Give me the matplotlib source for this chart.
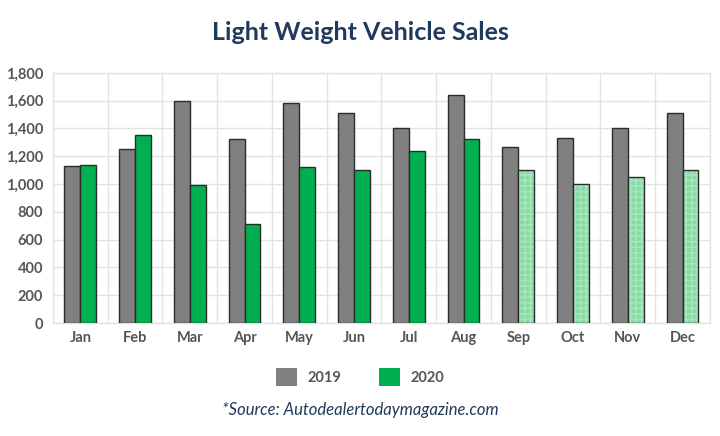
import matplotlib
matplotlib.use("Agg")
import matplotlib.pyplot as plt
import numpy as np
from matplotlib.patches import Patch

months = ["Jan", "Feb", "Mar", "Apr", "May", "Jun", "Jul", "Aug", "Sep", "Oct", "Nov", "Dec"]
sales_2019 = [1130, 1250, 1600, 1325, 1580, 1510, 1400, 1640, 1265, 1330, 1400, 1510]
sales_2020 = [1135, 1350, 995, 715, 1120, 1100, 1235, 1325, 1100, 1000, 1050, 1100]
projected_2020 = [False] * 8 + [True] * 4
yticks = [0, 200, 400, 600, 800, 1000, 1200, 1400, 1600, 1800]

plt.rcParams['font.family'] = ['Lato', 'DejaVu Sans']
plt.rcParams['hatch.linewidth'] = 1.2

fig = plt.figure(figsize=(7.2, 4.36), dpi=100)
ax = fig.add_axes([0.0736, 0.259, 0.9124, 0.574])

x = np.arange(len(months))
w = 0.29
edge = "#2b2b2b"
ax.bar(x - w / 2, sales_2019, w, color="#808080", edgecolor=edge, linewidth=1.0, zorder=3)
for xi, v, proj in zip(x, sales_2020, projected_2020):
    if proj:
        ax.bar(xi + w / 2, v, w, color="#86dba4", edgecolor="#a6e6bd", hatch="+++",
               linewidth=0, zorder=3)
        ax.bar(xi + w / 2, v, w, fill=False, edgecolor=edge, linewidth=1.0, zorder=4)
    else:
        ax.bar(xi + w / 2, v, w, color="#00b050", edgecolor=edge, linewidth=1.0, zorder=3)

ax.set_xlim(-0.5, len(months) - 0.5)
ax.set_ylim(0, 1800)
ax.set_yticks(yticks)
ax.set_yticklabels([f"{t:,}" for t in yticks])
ax.set_xticks(x)
ax.set_xticklabels(months)
ax.yaxis.grid(True, color="#e3e3e3", linewidth=1.0, zorder=0)
ax.set_xticks(np.arange(-0.5, len(months)), minor=True)
ax.xaxis.grid(True, which="minor", color="#e3e3e3", linewidth=1.0, zorder=0)
ax.tick_params(axis="both", which="both", length=0)
ax.tick_params(axis="y", pad=7)
ax.tick_params(axis="x", pad=6)
for lab in ax.get_xticklabels() + ax.get_yticklabels():
    lab.set_fontsize(10.5)
    lab.set_fontweight("bold")
    lab.set_color("#555555")
for s in ax.spines.values():
    s.set_color("#e3e3e3")
    s.set_linewidth(1.0)

fig.text(0.5, 0.925, "Light Weight Vehicle Sales", ha="center", va="center",
         fontsize=18, fontweight="bold", color="#1f3a5c")

handles = [Patch(facecolor="#808080", edgecolor="none", label="2019"),
           Patch(facecolor="#00b050", edgecolor="none", label="2020")]
leg = fig.legend(handles=handles, loc="center", bbox_to_anchor=(0.5, 0.135), ncol=2,
                 frameon=False, handlelength=1.45, handleheight=1.45, columnspacing=2.6,
                 handletextpad=0.7, prop={"size": 10.5, "weight": "bold"})
for t in leg.get_texts():
    t.set_color("#555555")

fig.text(0.5, 0.06, "*Source: Autodealertodaymagazine.com", ha="center", va="center",
         fontsize=12, style="italic", color="#1f3a5c")

fig.savefig("out.png", dpi=100)
